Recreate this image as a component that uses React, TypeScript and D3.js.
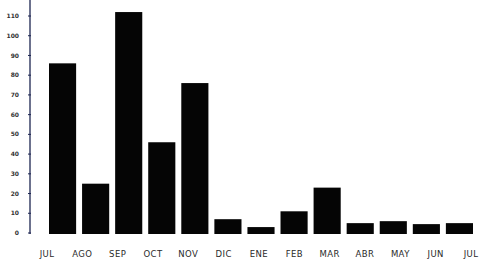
import React, { useEffect, useRef } from "react";
import * as d3 from "d3";

const months = ["JUL", "AGO", "SEP", "OCT", "NOV", "DIC", "ENE", "FEB", "MAR", "ABR", "MAY", "JUN", "JUL "];
const values = [86, 25, 112, 46, 76, 7, 3, 11, 23, 5, 6, 4.5, 5];
const yTicks = [0, 10, 20, 30, 40, 50, 60, 70, 80, 90, 100, 110];

const App = () => {
  const svgRef = useRef<SVGSVGElement>(null);

  useEffect(() => {
    const width = 482;
    const height = 267;

    const svg = d3.select(svgRef.current);
    svg.selectAll("*").remove();
    svg.attr("width", width).attr("height", height);

    svg.append("rect").attr("width", width).attr("height", height).attr("fill", "#fff");

    const y = d3.scaleLinear().domain([0, 110]).range([233, 16]);

    // bars and labels were not drawn on quite the same spacing
    const x = d3
      .scaleBand<number>()
      .domain(d3.range(months.length))
      .range([49, 473])
      .paddingInner(0.18)
      .paddingOuter(0);

    const xLabel = d3
      .scalePoint<number>()
      .domain(d3.range(months.length))
      .range([47, 471]);

    svg
      .append("g")
      .selectAll("rect")
      .data(values)
      .enter()
      .append("rect")
      .attr("x", (d, i) => x(i)!)
      .attr("y", (d) => y(d))
      .attr("width", x.bandwidth())
      .attr("height", (d) => y(0) - y(d) + 1)
      .attr("fill", "#050505");

    // y axis
    svg
      .append("line")
      .attr("x1", 30)
      .attr("x2", 30)
      .attr("y1", 0)
      .attr("y2", y(0) + 1)
      .attr("stroke", "#1c2550")
      .attr("stroke-width", 1.3);

    const ticks = svg.append("g");
    ticks
      .selectAll("line")
      .data(yTicks)
      .enter()
      .append("line")
      .attr("x1", 28)
      .attr("x2", 31)
      .attr("y1", (d) => y(d))
      .attr("y2", (d) => y(d))
      .attr("stroke", "#1c2550")
      .attr("stroke-width", 1);

    ticks
      .selectAll("text")
      .data(yTicks)
      .enter()
      .append("text")
      .attr("x", 19)
      .attr("y", (d) => y(d))
      .attr("dy", "0.35em")
      .attr("text-anchor", "end")
      .attr("font-family", "DejaVu Sans, sans-serif")
      .attr("font-size", 6)
      .attr("font-weight", "bold")
      .attr("fill", "#333")
      .text((d) => d);

    svg
      .append("g")
      .selectAll("text")
      .data(months)
      .enter()
      .append("text")
      .attr("x", (d, i) => xLabel(i)!)
      .attr("y", 257)
      .attr("text-anchor", "middle")
      .attr("font-family", "DejaVu Sans, sans-serif")
      .attr("font-size", 8.5)
      .attr("letter-spacing", 0.4)
      .attr("fill", "#2a2a2a")
      .text((d) => d.trim());
  }, []);

  return (
    <div style={{ position: "fixed", left: 0, top: 0, width: 482, height: 267, background: "#fff" }}>
      <svg ref={svgRef} style={{ display: "block" }}></svg>
    </div>
  );
};

export default App;
